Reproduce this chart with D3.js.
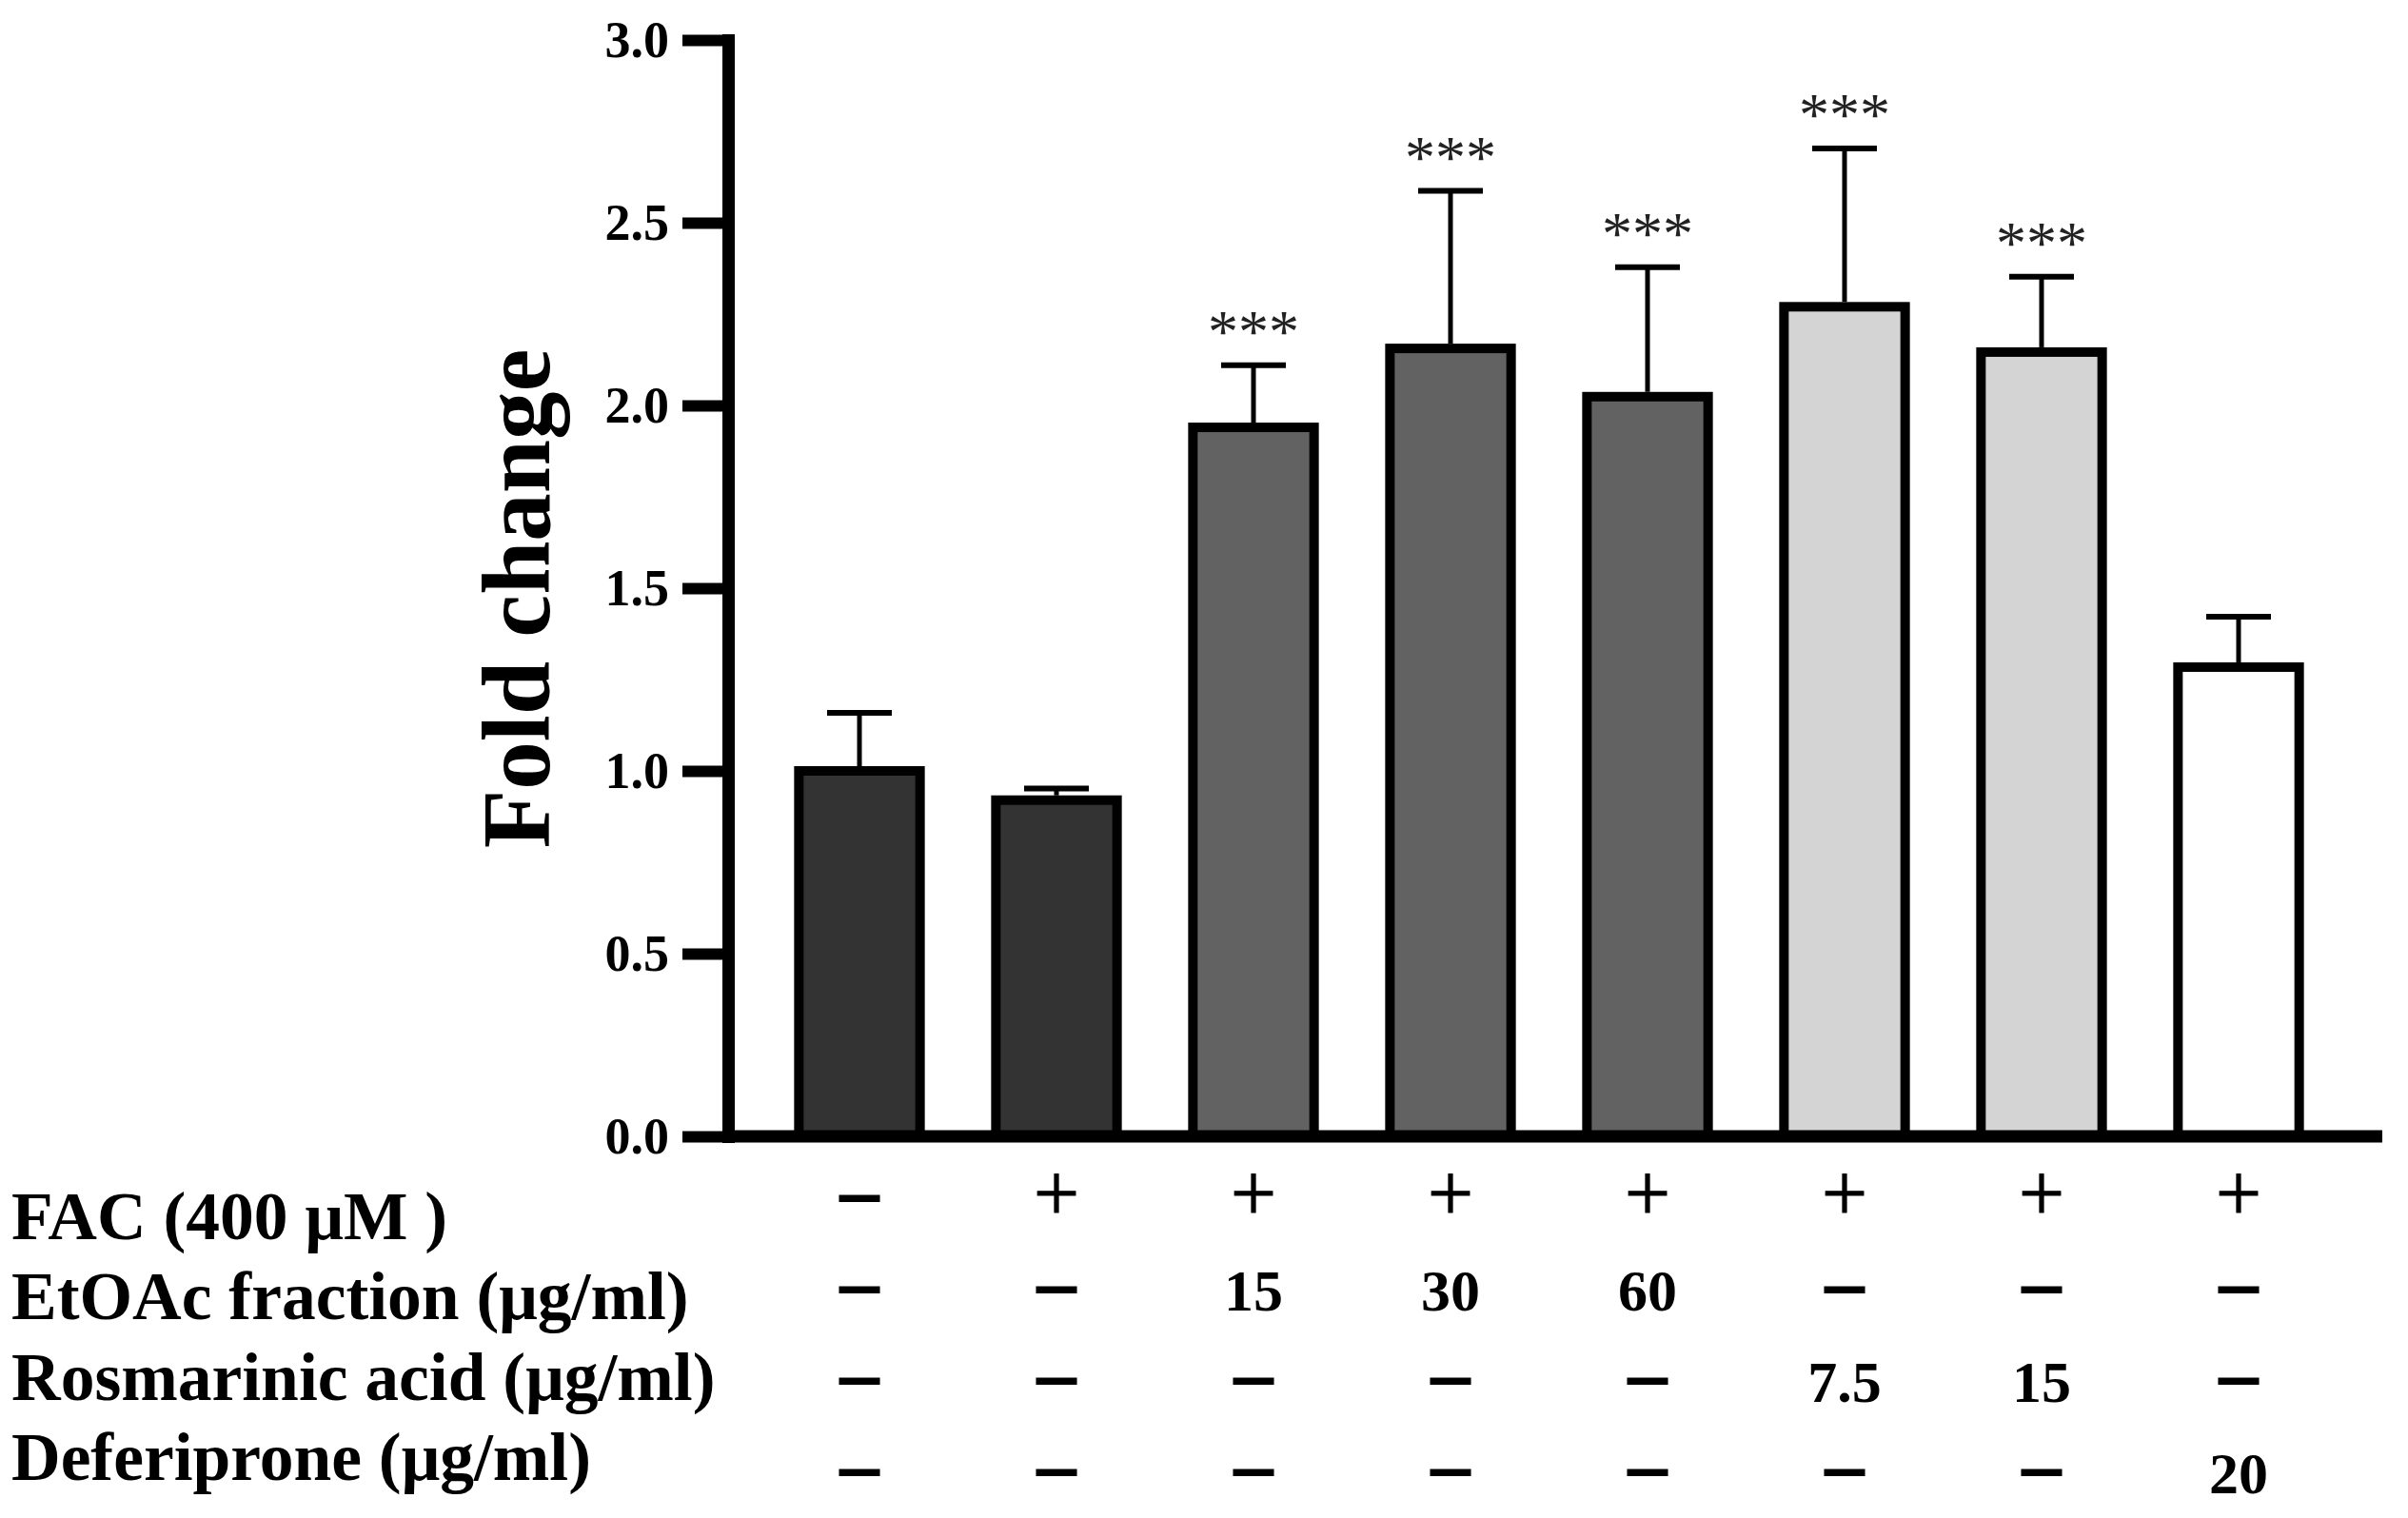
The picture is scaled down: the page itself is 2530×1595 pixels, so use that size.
<!DOCTYPE html>
<html>
<head>
<meta charset="utf-8">
<script src="https://cdn.jsdelivr.net/npm/d3@7"></script>
<style>
    body { margin: 0; background: #fff; }
    text { font-family: "Liberation Serif", "Times New Roman", serif; }
</style>
</head>
<body>
<div id="chart"></div>
<script>
// chart data
const groups = ["g1", "g2", "g3", "g4", "g5", "g6", "g7", "g8"];
const means = [1.00, 0.92, 1.94, 2.156, 2.024, 2.27, 2.146, 1.284];
const sems = [0.159, 0.032, 0.17, 0.431, 0.354, 0.433, 0.206, 0.138];
const stars = ["", "", "***", "***", "***", "***", "***", ""];
const fills = ["#333333", "#333333", "#626262", "#626262", "#626262", "#d4d4d4", "#d4d4d4", "#ffffff"];
const yTicks = [0.0, 0.5, 1.0, 1.5, 2.0, 2.5, 3.0];

const rowLabels = ["FAC (400 μM )", "EtOAc fraction (μg/ml)", "Rosmarinic acid (μg/ml)", "Deferiprone (μg/ml)"];
const facRow = ["–", "+", "+", "+", "+", "+", "+", "+"];
const etoacRow = ["–", "–", "15", "30", "60", "–", "–", "–"];
const rosmarinicRow = ["–", "–", "–", "–", "–", "7.5", "15", "–"];
const deferiproneRow = ["–", "–", "–", "–", "–", "–", "–", "20"];
const tableRows = [facRow, etoacRow, rosmarinicRow, deferiproneRow];

const W = 2530, H = 1595;
const axisX = 765;

const svg = d3.select("#chart").append("svg")
    .attr("width", W)
    .attr("height", H);

svg.append("rect").attr("width", W).attr("height", H).attr("fill", "#fff");

const y = d3.scaleLinear()
    .domain([0, 3])
    .range([1194, 42]);

const x = d3.scaleBand()
    .domain(groups)
    .range([799.5, 2455.5])
    .paddingInner(0.385)
    .paddingOuter(0.1925);

// bars
svg.append("g")
    .selectAll("rect")
    .data(groups)
    .join("rect")
        .attr("x", d => x(d))
        .attr("width", x.bandwidth())
        .attr("y", (d, i) => y(means[i]))
        .attr("height", (d, i) => y(0) - y(means[i]))
        .attr("fill", (d, i) => fills[i])
        .attr("stroke", "#000")
        .attr("stroke-width", 10);

// error bars (upper only)
const err = svg.append("g")
    .attr("stroke", "#000")
    .attr("stroke-width", 5);

err.selectAll("line.v")
    .data(groups)
    .join("line")
        .attr("class", "v")
        .attr("x1", d => x(d) + x.bandwidth() / 2)
        .attr("x2", d => x(d) + x.bandwidth() / 2)
        .attr("y1", (d, i) => y(means[i]) - 5)
        .attr("y2", (d, i) => y(means[i] + sems[i]));

err.selectAll("line.cap")
    .data(groups)
    .join("line")
        .attr("class", "cap")
        .attr("stroke-width", 6)
        .attr("x1", d => x(d) + x.bandwidth() / 2 - 34)
        .attr("x2", d => x(d) + x.bandwidth() / 2 + 34)
        .attr("y1", (d, i) => y(means[i] + sems[i]))
        .attr("y2", (d, i) => y(means[i] + sems[i]));

// significance stars
svg.append("g")
    .selectAll("text")
    .data(groups)
    .join("text")
        .attr("x", d => x(d) + x.bandwidth() / 2)
        .attr("y", (d, i) => y(means[i] + sems[i]) - 14)
        .attr("text-anchor", "middle")
        .attr("font-size", 64)
        .attr("fill", "#222")
        .text((d, i) => stars[i]);

// y axis
svg.append("g")
    .attr("transform", `translate(${axisX},0)`)
    .call(d3.axisLeft(y)
        .tickValues(yTicks)
        .tickFormat(d3.format(".1f"))
        .tickSize(48)
        .tickSizeOuter(0)
        .tickPadding(14))
    .call(g => g.select(".domain")
        .attr("stroke-width", 13)
        .attr("stroke-linecap", "square"))
    .call(g => g.selectAll(".tick line").attr("stroke-width", 12))
    .call(g => g.selectAll(".tick text")
        .attr("font-family", "Liberation Serif")
        .attr("font-weight", "bold")
        .attr("font-size", 54)
        .attr("fill", "#000"));

// x axis line
svg.append("line")
    .attr("x1", axisX - 6)
    .attr("x2", 2503)
    .attr("y1", y(0))
    .attr("y2", y(0))
    .attr("stroke", "#000")
    .attr("stroke-width", 13);

// y axis title
svg.append("text")
    .attr("transform", "translate(577,629) rotate(-90)")
    .attr("text-anchor", "middle")
    .attr("font-weight", "bold")
    .attr("font-size", 101)
    .text("Fold change");

// treatment table
const labelY = d3.scalePoint().domain(rowLabels).range([1302, 1555]);
const symbolY = d3.scalePoint().domain(rowLabels).range([1260, 1548]);

svg.append("g")
    .selectAll("text")
    .data(rowLabels)
    .join("text")
        .attr("x", 12)
        .attr("y", d => labelY(d))
        .attr("font-weight", "bold")
        .attr("font-size", 71.5)
        .text(d => d);

tableRows.forEach((row, r) => {
    const cy = symbolY(rowLabels[r]);
    svg.append("g")
        .selectAll("text")
        .data(row)
        .join("text")
            .attr("x", (d, i) => x(groups[i]) + x.bandwidth() / 2)
            .attr("text-anchor", "middle")
            .attr("fill", "#000")
            .each(function (d) {
                const t = d3.select(this);
                if (d === "+") {
                    t.attr("font-size", 86).attr("font-weight", "normal")
                        .attr("stroke", "#000").attr("stroke-width", 0.8)
                        .attr("y", cy + 0.27 * 86);
                } else if (d === "–") {
                    t.attr("font-size", 80).attr("font-weight", "bold")
                        .attr("stroke", "#000").attr("stroke-width", 2)
                        .attr("y", cy + 0.22 * 80);
                } else {
                    t.attr("font-size", 62).attr("font-weight", "bold")
                        .attr("y", cy + 0.34 * 62);
                }
            })
            .text(d => d);
});
</script>
</body>
</html>
